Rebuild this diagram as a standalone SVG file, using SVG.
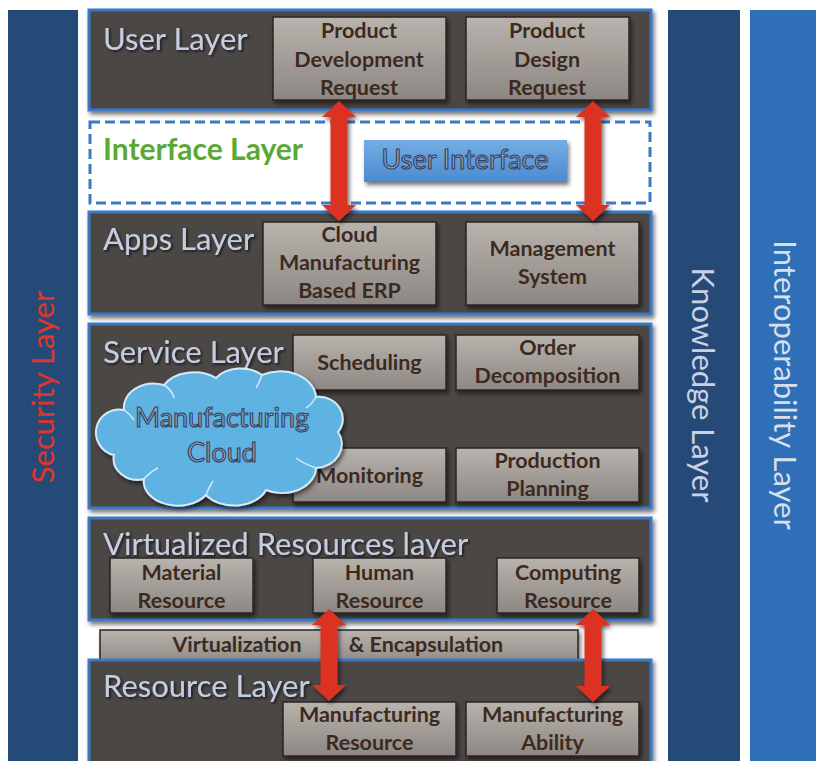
<svg xmlns="http://www.w3.org/2000/svg" width="816" height="761" viewBox="0 0 816 761">
  <defs>
    <linearGradient id="boxGrad" x1="0" y1="0" x2="0" y2="1">
      <stop offset="0" stop-color="#b9b3ae"/>
      <stop offset="1" stop-color="#8d8783"/>
    </linearGradient>
    <linearGradient id="uiGrad" x1="0" y1="0" x2="0" y2="1">
      <stop offset="0" stop-color="#73ade3"/>
      <stop offset="1" stop-color="#4c8ad2"/>
    </linearGradient>
    <filter id="shadow" x="-10%" y="-10%" width="130%" height="140%">
      <feDropShadow dx="2" dy="3" stdDeviation="2" flood-color="#000" flood-opacity="0.55"/>
    </filter>
    <filter id="txtShadow" x="-5%" y="-20%" width="115%" height="150%">
      <feDropShadow dx="1.5" dy="1.5" stdDeviation="1" flood-color="#111" flood-opacity="0.8"/>
    </filter>
  </defs>
  <style>
    .bar { stroke: none; }
    .panel { fill: #4b4644; stroke: #3c78c6; stroke-width: 3; filter: url(#shadow); }
    .box { fill: url(#boxGrad); stroke: #2b2522; stroke-width: 1.5; filter: url(#shadow); }
    .boxTxt { font-family: Lato, "Liberation Sans", sans-serif; font-weight: 700; font-size: 21.5px; fill: #3d2a1f; text-anchor: middle; }
    .layerTxt { font-family: Lato, "Liberation Sans", sans-serif; font-size: 31px; fill: #c5cde1; filter: url(#txtShadow); }
    .vertTxt { font-family: Lato, "Liberation Sans", sans-serif; font-size: 31px; text-anchor: middle; }
    .arrow { fill: #dc3223; filter: url(#shadow); }
    .outlineTxt { font-family: Lato, "Liberation Sans", sans-serif; font-size: 27px; fill: #93a3c2; stroke: #33415e; stroke-width: 1.1; text-anchor: middle; }
  </style>

  <rect width="816" height="761" fill="#ffffff"/>

  <!-- side layers -->
  <g id="security-layer">
    <rect class="bar" x="8" y="10" width="70" height="751" fill="#264a78"/>
    <text class="vertTxt" transform="translate(54,387) rotate(-90)" fill="#e0362a">Security Layer</text>
  </g>
  <g id="knowledge-layer">
    <rect class="bar" x="668" y="10" width="72" height="751" fill="#264a78"/>
    <text class="vertTxt" transform="translate(692,385) rotate(90)" fill="#c9d1e3">Knowledge Layer</text>
  </g>
  <g id="interoperability-layer">
    <rect class="bar" x="750" y="10" width="66" height="751" fill="#2f6fb7"/>
    <text class="vertTxt" transform="translate(774,385) rotate(90)" fill="#d7deec">Interoperability Layer</text>
  </g>

  <!-- user layer -->
  <g id="user-layer">
    <rect class="panel" x="89" y="10" width="562" height="100"/>
    <text class="layerTxt" x="103" y="50">User Layer</text>
  </g>
  <g id="product-development-request">
    <rect class="box" x="273" y="17" width="173" height="83"/>
    <text class="boxTxt" x="359" y="38">Product</text>
    <text class="boxTxt" x="359" y="66.5">Development</text>
    <text class="boxTxt" x="359" y="95">Request</text>
  </g>
  <g id="product-design-request">
    <rect class="box" x="466" y="17" width="163" height="83"/>
    <text class="boxTxt" x="547" y="38">Product</text>
    <text class="boxTxt" x="547" y="66.5">Design</text>
    <text class="boxTxt" x="547" y="95">Request</text>
  </g>

  <!-- interface layer -->
  <g id="interface-layer">
    <rect x="90" y="122" width="560" height="81" fill="#ffffff" stroke="#3c78c6" stroke-width="3" stroke-dasharray="10 5"/>
    <text x="103" y="160" font-family="Lato, 'Liberation Sans', sans-serif" font-weight="700" font-size="30" fill="#5aa935">Interface Layer</text>
  </g>
  <g id="user-interface">
    <rect x="364" y="140" width="203" height="42" fill="url(#uiGrad)" filter="url(#shadow)"/>
    <text class="outlineTxt" x="465" y="169" font-size="26">User Interface</text>
  </g>

  <!-- apps layer -->
  <g id="apps-layer">
    <rect class="panel" x="89" y="212" width="562" height="102"/>
    <text class="layerTxt" x="103" y="250">Apps Layer</text>
  </g>
  <g id="cloud-manufacturing-erp">
    <rect class="box" x="263" y="222" width="173" height="83"/>
    <text class="boxTxt" x="349.5" y="242">Cloud</text>
    <text class="boxTxt" x="349.5" y="270">Manufacturing</text>
    <text class="boxTxt" x="349.5" y="298">Based ERP</text>
  </g>
  <g id="management-system">
    <rect class="box" x="466" y="222" width="173" height="83"/>
    <text class="boxTxt" x="552.5" y="256">Management</text>
    <text class="boxTxt" x="552.5" y="284">System</text>
  </g>

  <!-- service layer -->
  <g id="service-layer">
    <rect class="panel" x="89" y="324" width="562" height="184"/>
    <text class="layerTxt" x="103" y="363">Service Layer</text>
  </g>
  <g id="scheduling">
    <rect class="box" x="293" y="335" width="153" height="55"/>
    <text class="boxTxt" x="369.5" y="370">Scheduling</text>
  </g>
  <g id="order-decomposition">
    <rect class="box" x="456" y="335" width="183" height="55"/>
    <text class="boxTxt" x="547.5" y="355">Order</text>
    <text class="boxTxt" x="547.5" y="383">Decomposition</text>
  </g>
  <g id="monitoring">
    <rect class="box" x="293" y="448" width="153" height="54"/>
    <text class="boxTxt" x="369.5" y="483">Monitoring</text>
  </g>
  <g id="production-planning">
    <rect class="box" x="456" y="448" width="183" height="54"/>
    <text class="boxTxt" x="547.5" y="468">Production</text>
    <text class="boxTxt" x="547.5" y="496">Planning</text>
  </g>
  <g id="manufacturing-cloud">
    <path d="M124 410 A30 24 0 0 1 164 385 A34 24 0 0 1 216 378 A30 22 0 0 1 262 375 A36 27 0 0 1 316 397 A24 22 0 0 1 338 432 A28 24 0 0 1 316 468 A34 26 0 0 1 266 490 A34 24 0 0 1 206 495 A34 24 0 0 1 144 479 A24 21 0 0 1 114 455 A20 20 0 0 1 124 410 Z" fill="#5eb3e2" stroke="#d4ebf7" stroke-width="2" filter="url(#shadow)"/>
    <path d="M164 385 Q172 390 174 398 M262 375 Q260 382 256 388 M316 397 Q312 404 306 408 M316 468 Q304 464 296 458 M206 495 Q209 487 213 481 M144 479 Q150 472 158 468 M124 410 Q130 414 134 420" fill="none" stroke="#d4ebf7" stroke-width="1.5"/>
    <text class="outlineTxt" x="222" y="427">Manufacturing</text>
    <text class="outlineTxt" x="222" y="462">Cloud</text>
  </g>

  <!-- virtualized resources layer -->
  <g id="virtualized-resources-layer">
    <rect class="panel" x="89" y="518" width="562" height="102"/>
    <text class="layerTxt" x="103" y="555">Virtualized Resources layer</text>
  </g>
  <g id="material-resource">
    <rect class="box" x="110" y="558" width="143" height="55"/>
    <text class="boxTxt" x="181.5" y="580">Material</text>
    <text class="boxTxt" x="181.5" y="608">Resource</text>
  </g>
  <g id="human-resource">
    <rect class="box" x="313" y="558" width="133" height="55"/>
    <text class="boxTxt" x="379.5" y="580">Human</text>
    <text class="boxTxt" x="379.5" y="608">Resource</text>
  </g>
  <g id="computing-resource">
    <rect class="box" x="497" y="558" width="142" height="55"/>
    <text class="boxTxt" x="568" y="580">Computing</text>
    <text class="boxTxt" x="568" y="608">Resource</text>
  </g>

  <!-- virtualization & encapsulation -->
  <g id="virtualization-encapsulation">
    <rect class="box" x="100" y="630" width="478" height="36"/>
    <text class="boxTxt" x="237" y="652">Virtualization</text>
    <text class="boxTxt" x="426" y="652">&amp; Encapsulation</text>
  </g>

  <!-- resource layer -->
  <g id="resource-layer">
    <rect class="panel" x="89" y="660" width="562" height="104"/>
    <text class="layerTxt" x="103" y="697">Resource Layer</text>
  </g>
  <g id="manufacturing-resource">
    <rect class="box" x="283" y="702" width="173" height="54"/>
    <text class="boxTxt" x="369.5" y="722">Manufacturing</text>
    <text class="boxTxt" x="369.5" y="750">Resource</text>
  </g>
  <g id="manufacturing-ability">
    <rect class="box" x="466" y="702" width="173" height="54"/>
    <text class="boxTxt" x="552.5" y="722">Manufacturing</text>
    <text class="boxTxt" x="552.5" y="750">Ability</text>
  </g>

  <!-- connectors: double-headed arrows -->
  <g id="connectors">
    <polygon class="arrow" points="339,101 356,117 347.5,117 347.5,205 356,205 339,221 322,205 330.5,205 330.5,117 322,117"/>
    <polygon class="arrow" points="593,101 610,117 601.5,117 601.5,205 610,205 593,221 576,205 584.5,205 584.5,117 576,117"/>
    <polygon class="arrow" points="329,609 346,625 337.5,625 337.5,685 346,685 329,701 312,685 320.5,685 320.5,625 312,625"/>
    <polygon class="arrow" points="593,609 610,625 601.5,625 601.5,686 610,686 593,702 576,686 584.5,686 584.5,625 576,625"/>
  </g>
</svg>
